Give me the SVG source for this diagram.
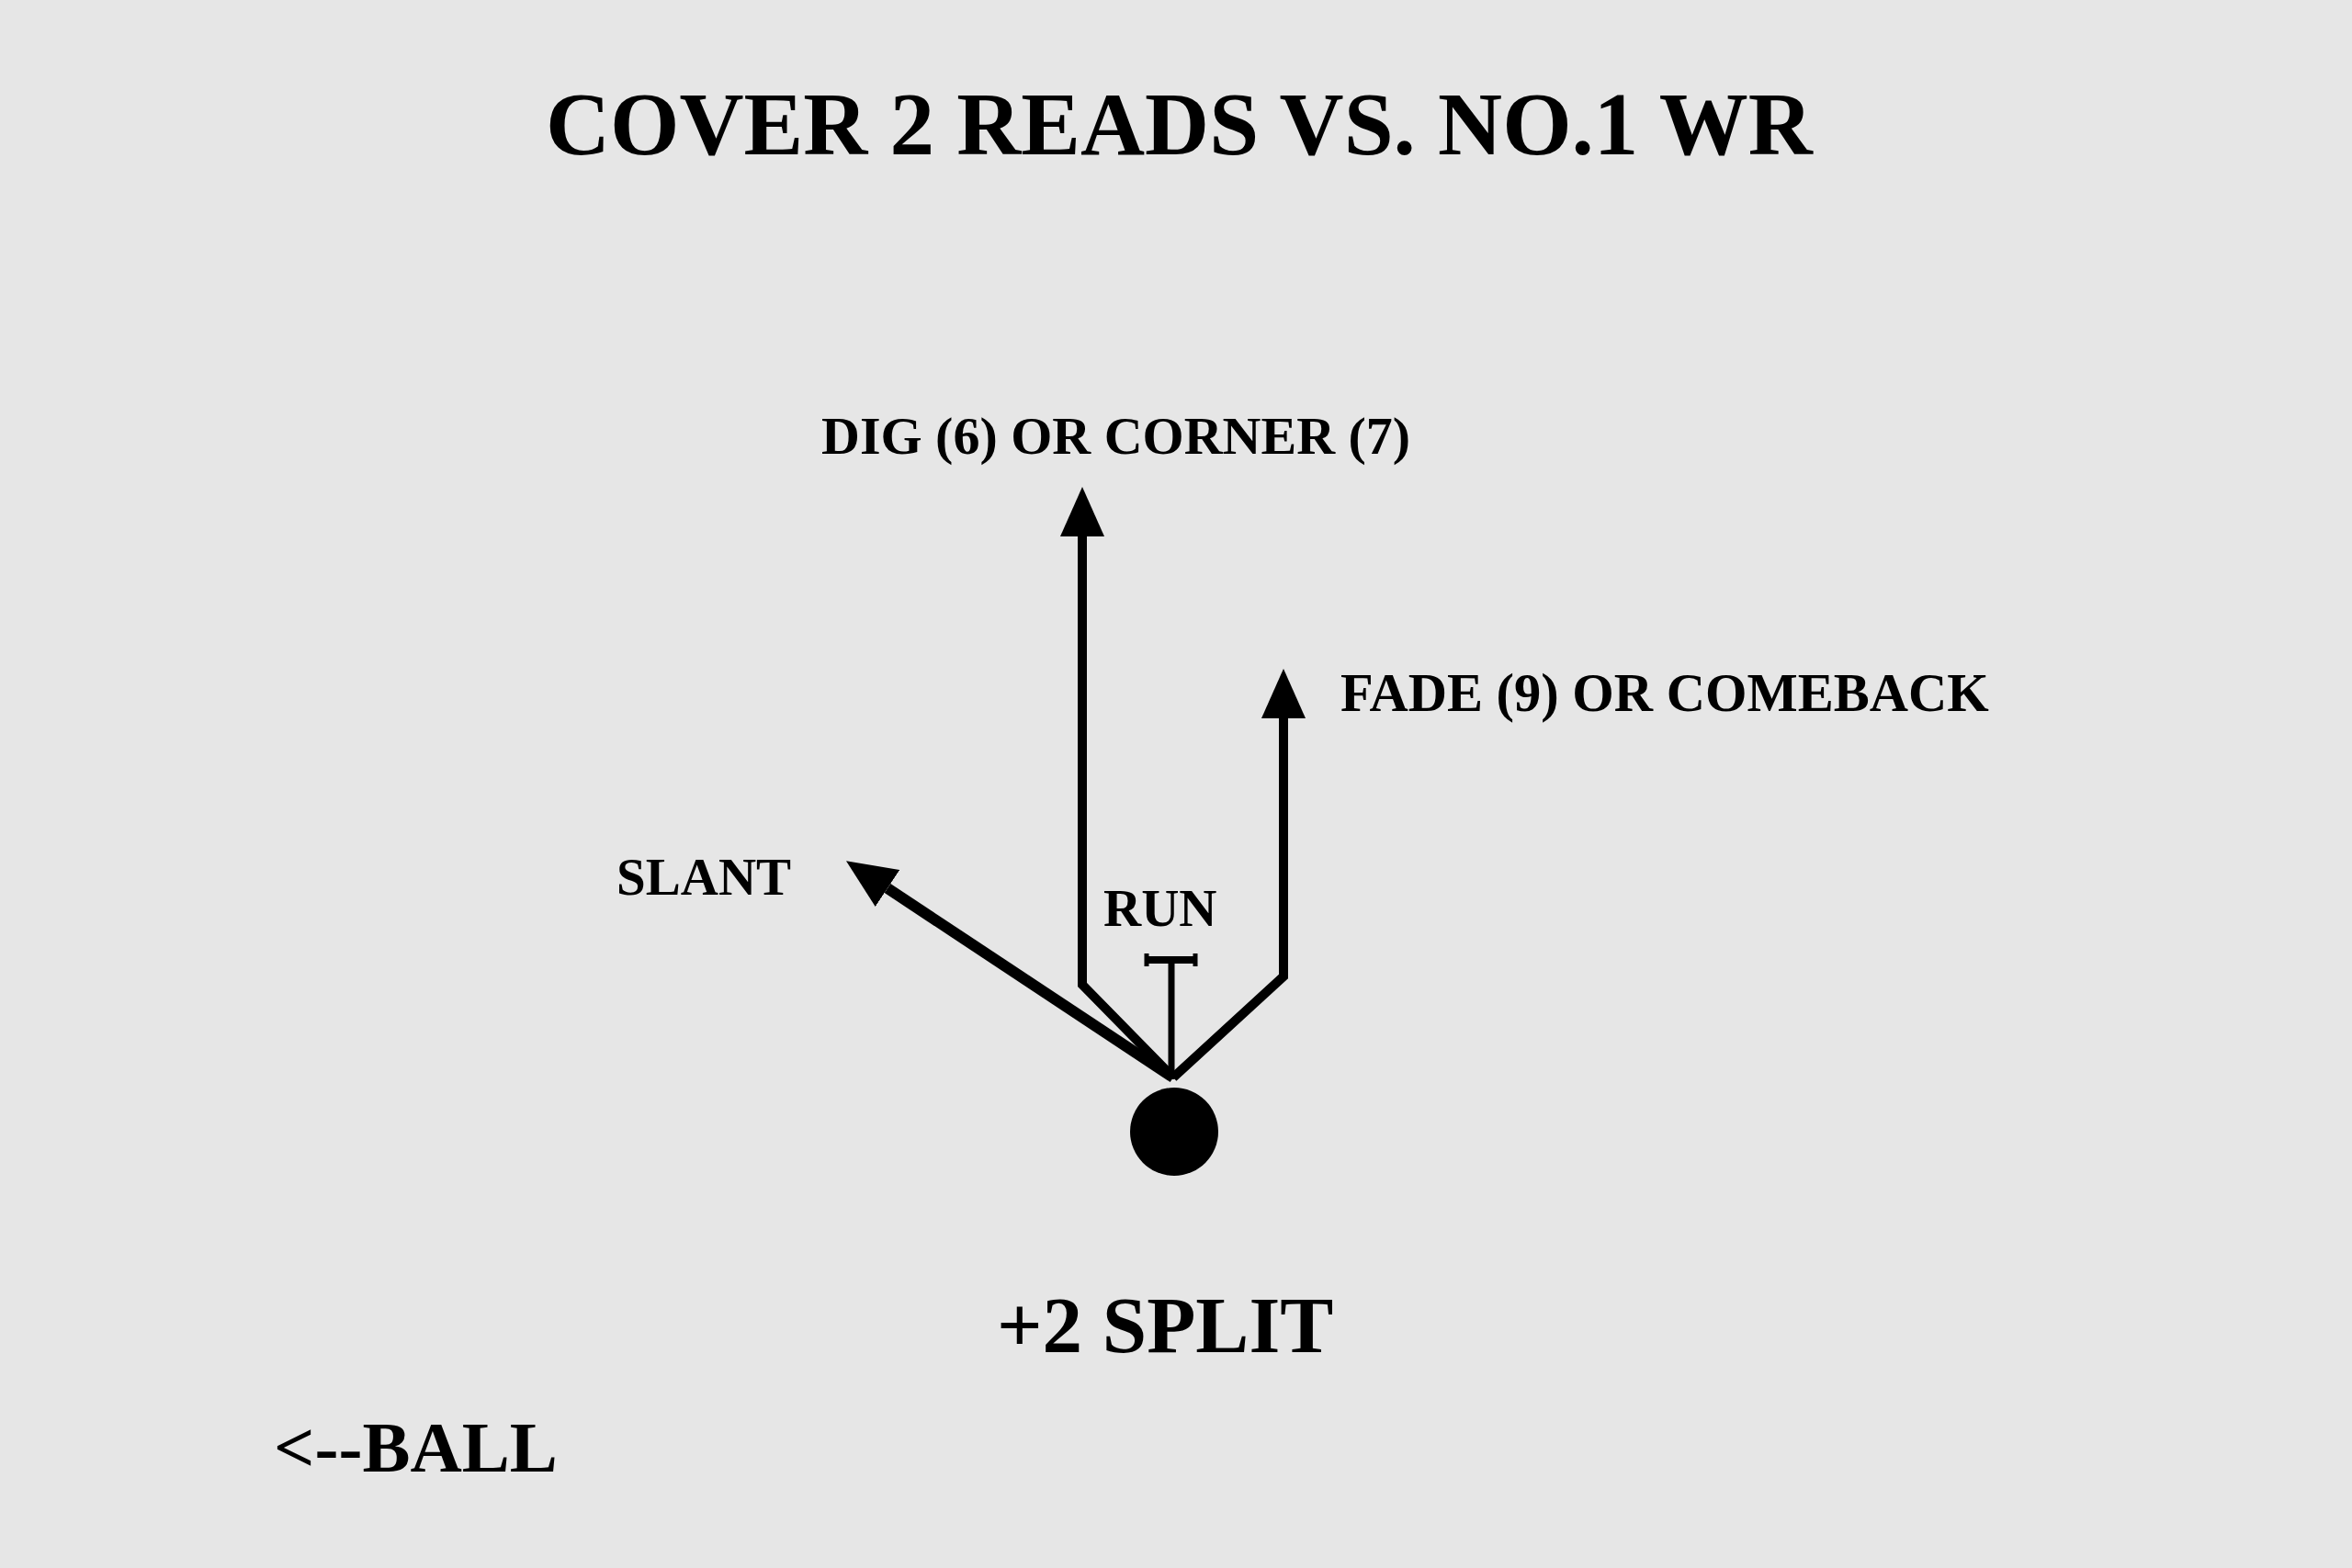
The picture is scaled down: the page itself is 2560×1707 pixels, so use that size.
<svg xmlns="http://www.w3.org/2000/svg" width="2560" height="1707" viewBox="0 0 2560 1707">
<style>
.lbl{font-family:"Liberation Serif","Times New Roman",serif;font-weight:bold;fill:#000}
.route{fill:none;stroke:#000;stroke-linejoin:miter;stroke-linecap:butt}
</style>
<defs>
<marker id="arrow" markerUnits="userSpaceOnUse" viewBox="0 0 54 48" markerWidth="54" markerHeight="48" refX="0" refY="24" orient="auto">
<path d="M0,0 L54,24 L0,48 z" fill="#000"/>
</marker>
</defs>
<rect x="0" y="0" width="2560" height="1707" fill="#e6e6e6"/>
<text class="lbl" x="594" y="168" font-size="97">COVER 2 READS VS. NO.1 WR</text>
<g id="connectors">
<path class="route" d="M1277,1173 L1178,1072 L1178,584" stroke-width="10" marker-end="url(#arrow)"/>
<path class="route" d="M1277,1173 L1397,1063 L1397,782" stroke-width="10" marker-end="url(#arrow)"/>
<path class="route" d="M1277,1173 L966,967" stroke-width="12" marker-end="url(#arrow)"/>
<path class="route" d="M1275,1175 L1275,1045" stroke-width="7"/>
<path class="route" d="M1247,1045 L1302,1045" stroke-width="8"/>
<path class="route" d="M1248,1038 L1248,1052 M1301,1038 L1301,1052" stroke-width="5"/>
</g>
<g id="receiver">
<circle cx="1278" cy="1232" r="48" fill="#000"/>
</g>
<g id="dig-label"><text class="lbl" x="894" y="494" font-size="58">DIG (6) OR CORNER (7)</text></g>
<g id="fade-label"><text class="lbl" x="1459" y="774" font-size="58.5">FADE (9) OR COMEBACK</text></g>
<g id="slant-label"><text class="lbl" x="671" y="974" font-size="57">SLANT</text></g>
<g id="run-label"><text class="lbl" x="1201" y="1008" font-size="57">RUN</text></g>
<g id="split-label"><text class="lbl" x="1085" y="1472" font-size="87">+2 SPLIT</text></g>
<g id="ball-label"><text class="lbl" x="298" y="1602" font-size="78">&lt;--BALL</text></g>
</svg>
